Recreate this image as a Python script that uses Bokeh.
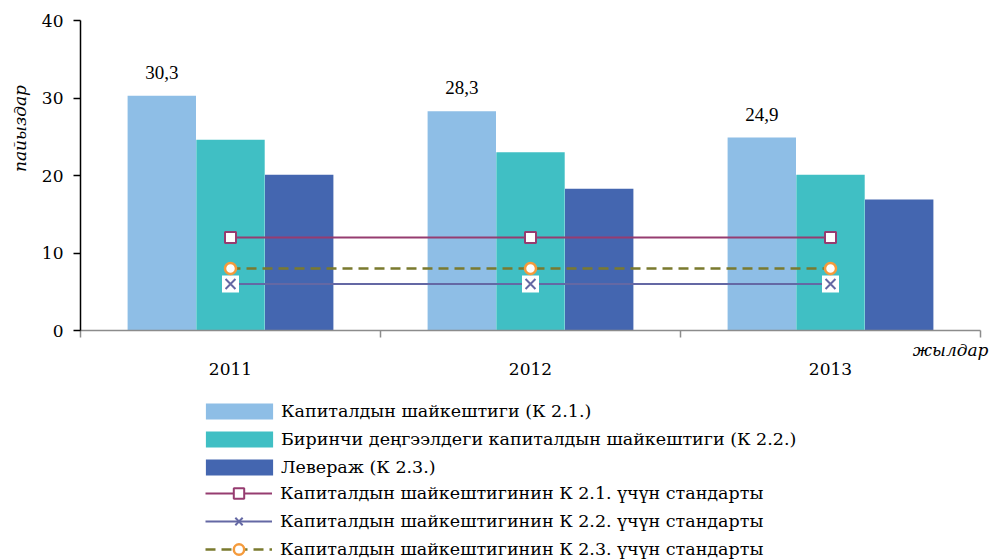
import math
from bokeh.plotting import figure
from bokeh.models import (Range1d, FixedTicker, Legend, LegendItem, Label,
                          LabelSet, ColumnDataSource, LinearAxis)
from bokeh.embed import file_html
from bokeh.resources import INLINE

years = ["2011", "2012", "2013"]
k21 = [30.3, 28.3, 24.9]
k22 = [24.6, 23.0, 20.1]
k23 = [20.1, 18.3, 16.9]
std21 = [12, 12, 12]
std22 = [6, 6, 6]
std23 = [8, 8, 8]
y_ticks = [0, 10, 20, 30, 40]
bar_names = ["Капиталдын шайкештиги (К 2.1.)",
             "Биринчи деңгээлдеги капиталдын шайкештиги (К 2.2.)",
             "Левераж (К 2.3.)"]
line_names = ["Капиталдын шайкештигинин К 2.1. үчүн стандарты",
              "Капиталдын шайкештигинин К 2.2. үчүн стандарты",
              "Капиталдын шайкештигинин К 2.3. үчүн стандарты"]
y_title = "пайыздар"
x_title = "жылдар"

FONT = "DejaVu Serif"
FS = "17px"
C1, C2, C3 = "#8EBEE6", "#40BFC4", "#4466B0"
L1, L2, L3 = "#963C70", "#6468A4", "#7A7A2E"
W, H = 990, 559

X0, XU = 80.0, 300.0
Y0, YU = 330.0, 7.75
def dx(px): return (px - X0) / XU
def dy(py): return (Y0 - py) / YU

centers = [i + 0.5 for i in range(len(years))]
bw = 0.228
off = 0.229

p = figure(width=W, height=H, output_backend="svg", toolbar_location=None,
           x_range=Range1d(dx(0), dx(W)), y_range=Range1d(dy(H), dy(0)),
           x_axis_location=None, y_axis_location=None, min_border=0)
p.min_border_left = p.min_border_right = p.min_border_top = p.min_border_bottom = 0
p.grid.visible = False
p.outline_line_color = None

src = ColumnDataSource(dict(
    x=centers,
    x1=[c - off for c in centers], x3=[c + off for c in centers],
    k21=k21, k22=k22, k23=k23, s21=std21, s22=std22, s23=std23,
    lab=[f"{v:.1f}".replace(".", ",") for v in k21]))

b1 = p.vbar(x="x1", top="k21", width=bw, source=src, fill_color=C1, line_color=None)
b2 = p.vbar(x="x", top="k22", width=bw, source=src, fill_color=C2, line_color=None)
b3 = p.vbar(x="x3", top="k23", width=bw, source=src, fill_color=C3, line_color=None)

ln1 = p.line("x", "s21", source=src, line_color=L1, line_width=2)
m1 = p.scatter("x", "s21", source=src, marker="square", size=11,
               fill_color="white", line_color=L1, line_width=2)
ln2 = p.line("x", "s22", source=src, line_color=L2, line_width=2)
bg2 = p.scatter("x", "s22", source=src, marker="square", size=17,
                fill_color="white", line_color=None)
m2 = p.scatter("x", "s22", source=src, marker="x", size=14,
               line_color=L2, line_width=2)
ln3 = p.line("x", "s23", source=src, line_color=L3, line_width=2.5,
             line_dash="10 6")
m3 = p.scatter("x", "s23", source=src, marker="circle", size=11,
               fill_color="white", line_color="#F59B3C", line_width=2.5)

labels = LabelSet(x="x1", y="k21", text="lab", source=src, text_align="center",
                  text_baseline="bottom", y_offset=17, text_font=FONT,
                  text_font_size="19px", text_color="black")
p.add_layout(labels)

xa = LinearAxis(fixed_location=0, bounds=(0, len(years)))
xa.ticker = FixedTicker(ticks=centers, minor_ticks=list(range(len(years) + 1)))
xa.major_label_overrides = {c: y for c, y in zip(centers, years)}
xa.axis_line_color = "#8C8C8C"
xa.axis_line_width = 1.5
xa.major_tick_line_color = None
xa.major_tick_out = 0
xa.major_tick_in = 0
xa.minor_tick_line_color = "#8C8C8C"
xa.minor_tick_line_width = 1.5
xa.minor_tick_out = 7
xa.minor_tick_in = 0
xa.major_label_standoff = 25
xa.major_label_text_font = FONT
xa.major_label_text_font_size = FS
xa.major_label_text_color = "black"
p.add_layout(xa, "below")

ya = LinearAxis(fixed_location=0, bounds=(y_ticks[0], y_ticks[-1]))
ya.ticker = FixedTicker(ticks=y_ticks, minor_ticks=[])
ya.axis_line_color = "black"
ya.axis_line_width = 1.5
ya.major_tick_line_color = "black"
ya.major_tick_line_width = 1.5
ya.major_tick_out = 7
ya.major_tick_in = 0
ya.minor_tick_line_color = None
ya.major_label_standoff = 10
ya.major_label_text_font = FONT
ya.major_label_text_font_size = FS
ya.major_label_text_color = "black"
p.add_layout(ya, "left")

p.add_layout(Label(x=dx(19), y=dy(128), text=y_title, angle=math.pi / 2,
                   text_align="center", text_baseline="middle", text_font=FONT,
                   text_font_style="italic", text_font_size=FS, text_color="black"))
p.add_layout(Label(x=dx(988), y=dy(349), text=x_title,
                   text_align="right", text_baseline="middle", text_font=FONT,
                   text_font_style="italic", text_font_size=FS, text_color="black"))

items1 = [LegendItem(label=bar_names[0], renderers=[b1]),
          LegendItem(label=bar_names[1], renderers=[b2]),
          LegendItem(label=bar_names[2], renderers=[b3])]
items2 = [LegendItem(label=line_names[0], renderers=[ln1, m1]),
          LegendItem(label=line_names[1], renderers=[ln2, m2]),
          LegendItem(label=line_names[2], renderers=[ln3, m3])]
common = dict(label_height=22, padding=0, margin=0, border_line_color=None,
              background_fill_alpha=0, label_text_font=FONT,
              label_text_font_size="17.5px", label_text_color="black")
leg1 = Legend(items=items1, location=(197, 81), glyph_width=84, glyph_height=20,
              label_standoff=0, spacing=6, **common)
leg2 = Legend(items=items2, location=(205, -3), glyph_width=67, glyph_height=26,
              label_standoff=8, spacing=2, **common)
p.add_layout(leg1)
p.add_layout(leg2)

open("out.html", "w").write(file_html(p, INLINE))
